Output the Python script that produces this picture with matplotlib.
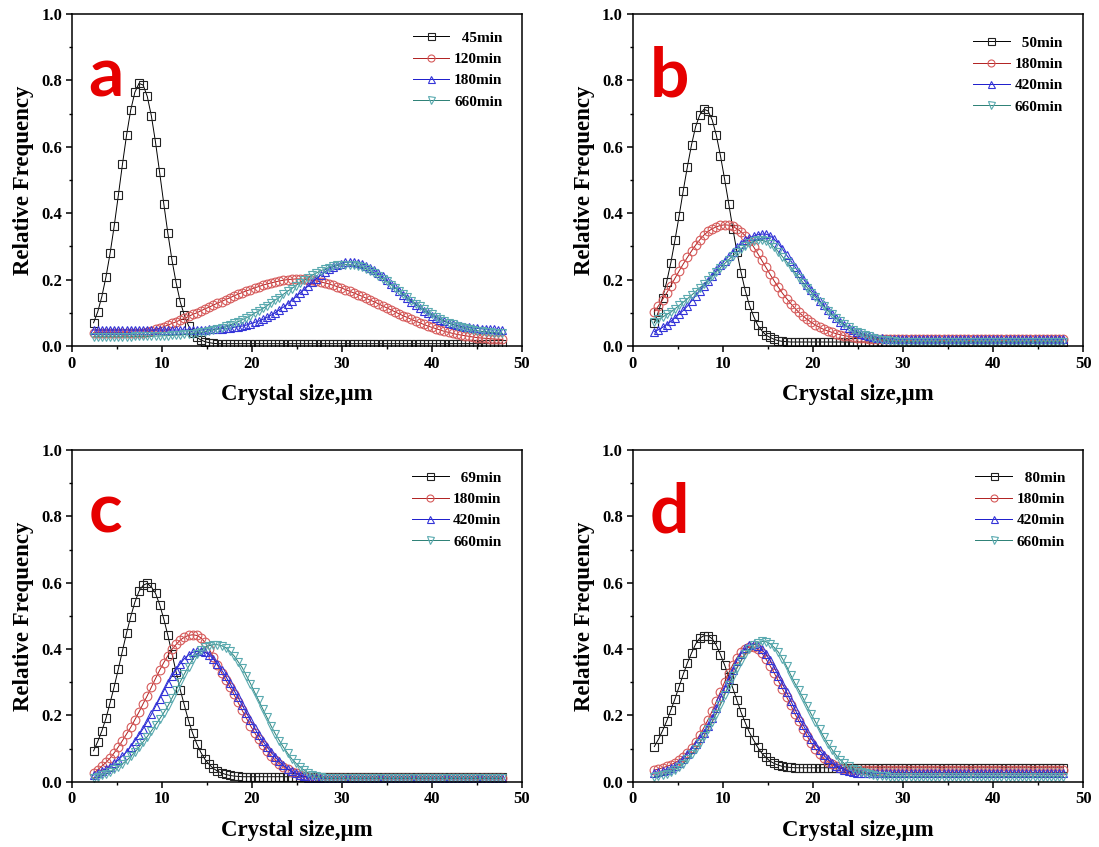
import numpy as np
import matplotlib
matplotlib.use('Agg')
from matplotlib import pyplot as plt
from matplotlib.ticker import MultipleLocator

# crystal size bins in um (100 bins, ~2.4 .. 47.8)
size = np.linspace(2.4, 47.8, 100)

## panel a
a_45 = [0.070, 0.103, 0.149, 0.208, 0.279, 0.362, 0.454, 0.548, 0.636, 0.711,
        0.764, 0.791, 0.786, 0.752, 0.693, 0.614, 0.523, 0.429, 0.339, 0.258,
        0.190, 0.133, 0.092, 0.061, 0.040, 0.026, 0.018, 0.013, 0.010, 0.008,
        0.007, 0.007, 0.007, 0.007, 0.007, 0.007, 0.007, 0.007, 0.007, 0.007,
        0.007, 0.007, 0.007, 0.007, 0.007, 0.007, 0.007, 0.007, 0.007, 0.007,
        0.007, 0.007, 0.007, 0.007, 0.007, 0.007, 0.007, 0.007, 0.007, 0.007,
        0.007, 0.007, 0.007, 0.007, 0.007, 0.007, 0.007, 0.007, 0.007, 0.007,
        0.007, 0.007, 0.007, 0.007, 0.007, 0.007, 0.007, 0.007, 0.007, 0.007,
        0.007, 0.007, 0.007, 0.007, 0.007, 0.007, 0.007, 0.007, 0.007, 0.007,
        0.007, 0.007, 0.007, 0.007, 0.007, 0.007, 0.007, 0.007, 0.007, 0.007]
a_120 = [0.040, 0.040, 0.040, 0.040, 0.040, 0.040, 0.040, 0.040, 0.040, 0.040,
         0.040, 0.040, 0.040, 0.043, 0.046, 0.050, 0.054, 0.058, 0.063, 0.068,
         0.073, 0.078, 0.083, 0.089, 0.095, 0.100, 0.106, 0.112, 0.117, 0.123,
         0.129, 0.134, 0.140, 0.145, 0.151, 0.156, 0.161, 0.166, 0.170, 0.175,
         0.179, 0.183, 0.187, 0.190, 0.193, 0.196, 0.198, 0.200, 0.201, 0.202,
         0.202, 0.201, 0.200, 0.198, 0.196, 0.193, 0.190, 0.187, 0.183, 0.179,
         0.175, 0.170, 0.165, 0.160, 0.155, 0.150, 0.144, 0.138, 0.133, 0.127,
         0.121, 0.115, 0.109, 0.103, 0.097, 0.091, 0.086, 0.080, 0.075, 0.070,
         0.065, 0.060, 0.056, 0.052, 0.048, 0.044, 0.041, 0.038, 0.035, 0.033,
         0.031, 0.029, 0.027, 0.025, 0.024, 0.023, 0.022, 0.021, 0.020, 0.020]
a_180 = [0.048, 0.048, 0.048, 0.048, 0.048, 0.048, 0.048, 0.048, 0.048, 0.048,
         0.048, 0.048, 0.048, 0.048, 0.048, 0.048, 0.048, 0.048, 0.048, 0.048,
         0.048, 0.048, 0.048, 0.048, 0.048, 0.048, 0.048, 0.049, 0.050, 0.050,
         0.051, 0.052, 0.053, 0.054, 0.056, 0.058, 0.060, 0.063, 0.067, 0.071,
         0.075, 0.080, 0.086, 0.093, 0.100, 0.109, 0.117, 0.127, 0.137, 0.148,
         0.159, 0.170, 0.181, 0.192, 0.203, 0.213, 0.222, 0.231, 0.238, 0.244,
         0.248, 0.252, 0.253, 0.253, 0.251, 0.247, 0.242, 0.236, 0.228, 0.219,
         0.210, 0.199, 0.188, 0.177, 0.166, 0.155, 0.144, 0.134, 0.124, 0.115,
         0.106, 0.098, 0.091, 0.085, 0.079, 0.074, 0.069, 0.065, 0.062, 0.059,
         0.057, 0.056, 0.054, 0.053, 0.052, 0.051, 0.050, 0.050, 0.049, 0.049]
a_660 = [0.028, 0.028, 0.028, 0.028, 0.028, 0.028, 0.028, 0.028, 0.028, 0.028,
         0.029, 0.029, 0.029, 0.029, 0.029, 0.030, 0.030, 0.031, 0.031, 0.032,
         0.033, 0.033, 0.035, 0.036, 0.037, 0.039, 0.041, 0.043, 0.046, 0.048,
         0.051, 0.055, 0.059, 0.063, 0.068, 0.073, 0.079, 0.085, 0.091, 0.099,
         0.105, 0.113, 0.121, 0.130, 0.139, 0.146, 0.156, 0.165, 0.173, 0.182,
         0.191, 0.199, 0.206, 0.214, 0.220, 0.227, 0.231, 0.236, 0.240, 0.243,
         0.244, 0.245, 0.245, 0.243, 0.240, 0.237, 0.232, 0.226, 0.219, 0.211,
         0.203, 0.195, 0.185, 0.175, 0.166, 0.156, 0.147, 0.137, 0.128, 0.119,
         0.111, 0.102, 0.095, 0.088, 0.081, 0.076, 0.070, 0.065, 0.061, 0.057,
         0.054, 0.051, 0.048, 0.046, 0.044, 0.043, 0.041, 0.040, 0.039, 0.038]

## panel b
b_50 = [0.070, 0.103, 0.146, 0.194, 0.251, 0.319, 0.392, 0.468, 0.540, 0.606,
        0.661, 0.696, 0.713, 0.708, 0.681, 0.635, 0.573, 0.503, 0.429, 0.353,
        0.283, 0.221, 0.167, 0.123, 0.090, 0.063, 0.046, 0.033, 0.026, 0.020,
        0.016, 0.014, 0.013, 0.012, 0.012, 0.012, 0.012, 0.012, 0.012, 0.012,
        0.012, 0.012, 0.012, 0.012, 0.012, 0.012, 0.012, 0.012, 0.012, 0.012,
        0.012, 0.012, 0.012, 0.012, 0.012, 0.012, 0.012, 0.012, 0.012, 0.012,
        0.012, 0.012, 0.012, 0.012, 0.012, 0.012, 0.012, 0.012, 0.012, 0.012,
        0.012, 0.012, 0.012, 0.012, 0.012, 0.012, 0.012, 0.012, 0.012, 0.012,
        0.012, 0.012, 0.012, 0.012, 0.012, 0.012, 0.012, 0.012, 0.012, 0.012,
        0.012, 0.012, 0.012, 0.012, 0.012, 0.012, 0.012, 0.012, 0.012, 0.012]
b_180 = [0.103, 0.121, 0.140, 0.160, 0.182, 0.204, 0.226, 0.247, 0.267, 0.286,
         0.304, 0.320, 0.334, 0.345, 0.353, 0.359, 0.363, 0.365, 0.364, 0.360,
         0.353, 0.344, 0.332, 0.317, 0.299, 0.279, 0.258, 0.237, 0.216, 0.196,
         0.177, 0.159, 0.143, 0.128, 0.114, 0.101, 0.090, 0.080, 0.071, 0.063,
         0.056, 0.050, 0.045, 0.041, 0.037, 0.034, 0.031, 0.029, 0.027, 0.025,
         0.024, 0.023, 0.022, 0.021, 0.020, 0.020, 0.020, 0.020, 0.020, 0.020,
         0.020, 0.020, 0.020, 0.020, 0.020, 0.020, 0.020, 0.020, 0.020, 0.020,
         0.020, 0.020, 0.020, 0.020, 0.020, 0.020, 0.020, 0.020, 0.020, 0.020,
         0.020, 0.020, 0.020, 0.020, 0.020, 0.020, 0.020, 0.020, 0.020, 0.020,
         0.020, 0.020, 0.020, 0.020, 0.020, 0.020, 0.020, 0.020, 0.020, 0.020]
b_420 = [0.043, 0.049, 0.056, 0.064, 0.074, 0.085, 0.096, 0.107, 0.120, 0.136,
         0.151, 0.166, 0.180, 0.195, 0.212, 0.228, 0.244, 0.257, 0.270, 0.284,
         0.297, 0.308, 0.318, 0.326, 0.331, 0.335, 0.337, 0.337, 0.332, 0.322,
         0.308, 0.292, 0.274, 0.257, 0.239, 0.221, 0.203, 0.185, 0.168, 0.153,
         0.137, 0.122, 0.107, 0.095, 0.083, 0.073, 0.063, 0.055, 0.047, 0.042,
         0.037, 0.033, 0.030, 0.027, 0.025, 0.023, 0.022, 0.021, 0.020, 0.020,
         0.020, 0.020, 0.020, 0.020, 0.020, 0.020, 0.020, 0.020, 0.020, 0.020,
         0.020, 0.020, 0.020, 0.020, 0.020, 0.020, 0.020, 0.020, 0.020, 0.020,
         0.020, 0.020, 0.020, 0.020, 0.020, 0.020, 0.020, 0.020, 0.020, 0.020,
         0.020, 0.020, 0.020, 0.020, 0.020, 0.020, 0.020, 0.020, 0.020, 0.020]
b_660 = [0.073, 0.080, 0.087, 0.095, 0.102, 0.112, 0.122, 0.132, 0.142, 0.153,
         0.164, 0.175, 0.186, 0.198, 0.210, 0.223, 0.236, 0.248, 0.260, 0.272,
         0.283, 0.293, 0.302, 0.310, 0.315, 0.318, 0.318, 0.315, 0.308, 0.298,
         0.284, 0.269, 0.254, 0.238, 0.222, 0.206, 0.191, 0.176, 0.161, 0.147,
         0.133, 0.120, 0.106, 0.095, 0.084, 0.074, 0.065, 0.057, 0.049, 0.043,
         0.038, 0.033, 0.029, 0.025, 0.022, 0.019, 0.017, 0.015, 0.014, 0.013,
         0.013, 0.013, 0.013, 0.013, 0.013, 0.013, 0.013, 0.013, 0.013, 0.013,
         0.013, 0.013, 0.013, 0.013, 0.013, 0.013, 0.013, 0.013, 0.013, 0.013,
         0.013, 0.013, 0.013, 0.013, 0.013, 0.013, 0.013, 0.013, 0.013, 0.013,
         0.013, 0.013, 0.013, 0.013, 0.013, 0.013, 0.013, 0.013, 0.013, 0.013]

## panel c
c_69 = [0.093, 0.121, 0.153, 0.191, 0.238, 0.287, 0.340, 0.395, 0.449, 0.498,
        0.541, 0.574, 0.592, 0.598, 0.587, 0.568, 0.534, 0.491, 0.441, 0.386,
        0.330, 0.277, 0.230, 0.184, 0.146, 0.114, 0.088, 0.067, 0.052, 0.040,
        0.032, 0.026, 0.022, 0.019, 0.017, 0.016, 0.015, 0.015, 0.015, 0.015,
        0.015, 0.015, 0.015, 0.015, 0.015, 0.015, 0.015, 0.015, 0.015, 0.015,
        0.015, 0.015, 0.015, 0.015, 0.015, 0.015, 0.015, 0.015, 0.015, 0.015,
        0.015, 0.015, 0.015, 0.015, 0.015, 0.015, 0.015, 0.015, 0.015, 0.015,
        0.015, 0.015, 0.015, 0.015, 0.015, 0.015, 0.015, 0.015, 0.015, 0.015,
        0.015, 0.015, 0.015, 0.015, 0.015, 0.015, 0.015, 0.015, 0.015, 0.015,
        0.015, 0.015, 0.015, 0.015, 0.015, 0.015, 0.015, 0.015, 0.015, 0.015]
c_180 = [0.025, 0.036, 0.047, 0.058, 0.071, 0.087, 0.105, 0.124, 0.144, 0.164,
         0.187, 0.210, 0.235, 0.259, 0.285, 0.311, 0.336, 0.359, 0.380, 0.399,
         0.414, 0.427, 0.436, 0.441, 0.443, 0.441, 0.434, 0.420, 0.400, 0.376,
         0.352, 0.329, 0.307, 0.286, 0.263, 0.239, 0.215, 0.192, 0.169, 0.148,
         0.128, 0.110, 0.093, 0.078, 0.065, 0.054, 0.045, 0.037, 0.030, 0.025,
         0.020, 0.016, 0.013, 0.012, 0.012, 0.012, 0.012, 0.012, 0.012, 0.012,
         0.012, 0.012, 0.012, 0.012, 0.012, 0.012, 0.012, 0.012, 0.012, 0.012,
         0.012, 0.012, 0.012, 0.012, 0.012, 0.012, 0.012, 0.012, 0.012, 0.012,
         0.012, 0.012, 0.012, 0.012, 0.012, 0.012, 0.012, 0.012, 0.012, 0.012,
         0.012, 0.012, 0.012, 0.012, 0.012, 0.012, 0.012, 0.012, 0.012, 0.012]
c_420 = [0.020, 0.026, 0.032, 0.038, 0.045, 0.055, 0.066, 0.078, 0.090, 0.106,
         0.123, 0.141, 0.160, 0.181, 0.203, 0.227, 0.250, 0.274, 0.298, 0.319,
         0.338, 0.356, 0.371, 0.382, 0.390, 0.393, 0.393, 0.390, 0.383, 0.370,
         0.355, 0.337, 0.318, 0.297, 0.276, 0.254, 0.231, 0.208, 0.185, 0.162,
         0.140, 0.122, 0.105, 0.089, 0.074, 0.061, 0.049, 0.039, 0.031, 0.025,
         0.020, 0.016, 0.012, 0.010, 0.010, 0.010, 0.010, 0.010, 0.010, 0.010,
         0.010, 0.010, 0.010, 0.010, 0.010, 0.010, 0.010, 0.010, 0.010, 0.010,
         0.010, 0.010, 0.010, 0.010, 0.010, 0.010, 0.010, 0.010, 0.010, 0.010,
         0.010, 0.010, 0.010, 0.010, 0.010, 0.010, 0.010, 0.010, 0.010, 0.010,
         0.010, 0.010, 0.010, 0.010, 0.010, 0.010, 0.010, 0.010, 0.010, 0.010]
c_660 = [0.010, 0.014, 0.019, 0.024, 0.030, 0.037, 0.045, 0.054, 0.064, 0.076,
         0.089, 0.104, 0.120, 0.136, 0.153, 0.171, 0.189, 0.208, 0.228, 0.252,
         0.277, 0.301, 0.325, 0.347, 0.369, 0.385, 0.397, 0.405, 0.410, 0.413,
         0.413, 0.410, 0.404, 0.393, 0.380, 0.362, 0.344, 0.320, 0.296, 0.270,
         0.245, 0.219, 0.194, 0.168, 0.145, 0.124, 0.104, 0.086, 0.069, 0.056,
         0.044, 0.035, 0.027, 0.021, 0.016, 0.013, 0.011, 0.010, 0.010, 0.010,
         0.010, 0.010, 0.010, 0.010, 0.010, 0.010, 0.010, 0.010, 0.010, 0.010,
         0.010, 0.010, 0.010, 0.010, 0.010, 0.010, 0.010, 0.010, 0.010, 0.010,
         0.010, 0.010, 0.010, 0.010, 0.010, 0.010, 0.010, 0.010, 0.010, 0.010,
         0.010, 0.010, 0.010, 0.010, 0.010, 0.010, 0.010, 0.010, 0.010, 0.010]

## panel d
d_80 = [0.106, 0.128, 0.154, 0.183, 0.216, 0.250, 0.287, 0.324, 0.358, 0.388,
        0.415, 0.433, 0.440, 0.440, 0.431, 0.411, 0.383, 0.352, 0.317, 0.282,
        0.245, 0.209, 0.178, 0.149, 0.126, 0.104, 0.086, 0.073, 0.062, 0.055,
        0.050, 0.046, 0.044, 0.043, 0.042, 0.042, 0.042, 0.042, 0.042, 0.042,
        0.042, 0.042, 0.042, 0.042, 0.042, 0.042, 0.042, 0.042, 0.042, 0.042,
        0.042, 0.042, 0.042, 0.042, 0.042, 0.042, 0.042, 0.042, 0.042, 0.042,
        0.042, 0.042, 0.042, 0.042, 0.042, 0.042, 0.042, 0.042, 0.042, 0.042,
        0.042, 0.042, 0.042, 0.042, 0.042, 0.042, 0.042, 0.042, 0.042, 0.042,
        0.042, 0.042, 0.042, 0.042, 0.042, 0.042, 0.042, 0.042, 0.042, 0.042,
        0.042, 0.042, 0.042, 0.042, 0.042, 0.042, 0.042, 0.042, 0.042, 0.042]
d_180 = [0.035, 0.038, 0.042, 0.046, 0.051, 0.057, 0.065, 0.075, 0.088, 0.103,
         0.121, 0.141, 0.163, 0.187, 0.213, 0.242, 0.271, 0.300, 0.328, 0.353,
         0.374, 0.390, 0.401, 0.406, 0.405, 0.399, 0.388, 0.370, 0.350, 0.328,
         0.304, 0.280, 0.256, 0.231, 0.205, 0.182, 0.159, 0.137, 0.116, 0.098,
         0.083, 0.070, 0.060, 0.052, 0.046, 0.042, 0.039, 0.037, 0.036, 0.035,
         0.035, 0.035, 0.035, 0.035, 0.035, 0.035, 0.035, 0.035, 0.035, 0.035,
         0.035, 0.035, 0.035, 0.035, 0.035, 0.035, 0.035, 0.035, 0.035, 0.035,
         0.035, 0.035, 0.035, 0.035, 0.035, 0.035, 0.035, 0.035, 0.035, 0.035,
         0.035, 0.035, 0.035, 0.035, 0.035, 0.035, 0.035, 0.035, 0.035, 0.035,
         0.035, 0.035, 0.035, 0.035, 0.035, 0.035, 0.035, 0.035, 0.035, 0.035]
d_420 = [0.025, 0.028, 0.032, 0.036, 0.041, 0.048, 0.057, 0.069, 0.083, 0.098,
         0.115, 0.131, 0.148, 0.168, 0.193, 0.222, 0.254, 0.282, 0.310, 0.338,
         0.365, 0.386, 0.402, 0.412, 0.415, 0.410, 0.399, 0.384, 0.366, 0.344,
         0.320, 0.295, 0.270, 0.244, 0.219, 0.194, 0.171, 0.149, 0.129, 0.111,
         0.095, 0.080, 0.067, 0.056, 0.048, 0.041, 0.036, 0.032, 0.029, 0.027,
         0.026, 0.025, 0.025, 0.025, 0.025, 0.025, 0.025, 0.025, 0.025, 0.025,
         0.025, 0.025, 0.025, 0.025, 0.025, 0.025, 0.025, 0.025, 0.025, 0.025,
         0.025, 0.025, 0.025, 0.025, 0.025, 0.025, 0.025, 0.025, 0.025, 0.025,
         0.025, 0.025, 0.025, 0.025, 0.025, 0.025, 0.025, 0.025, 0.025, 0.025,
         0.025, 0.025, 0.025, 0.025, 0.025, 0.025, 0.025, 0.025, 0.025, 0.025]
d_660 = [0.015, 0.017, 0.020, 0.024, 0.029, 0.036, 0.044, 0.054, 0.067, 0.082,
         0.098, 0.117, 0.138, 0.159, 0.181, 0.205, 0.232, 0.261, 0.292, 0.319,
         0.344, 0.365, 0.385, 0.400, 0.412, 0.419, 0.423, 0.422, 0.416, 0.405,
         0.391, 0.371, 0.348, 0.322, 0.297, 0.276, 0.252, 0.227, 0.203, 0.180,
         0.158, 0.135, 0.114, 0.097, 0.080, 0.065, 0.055, 0.046, 0.039, 0.034,
         0.029, 0.025, 0.022, 0.020, 0.018, 0.017, 0.016, 0.015, 0.015, 0.015,
         0.015, 0.015, 0.015, 0.015, 0.015, 0.015, 0.015, 0.015, 0.015, 0.015,
         0.015, 0.015, 0.015, 0.015, 0.015, 0.015, 0.015, 0.015, 0.015, 0.015,
         0.015, 0.015, 0.015, 0.015, 0.015, 0.015, 0.015, 0.015, 0.015, 0.015,
         0.015, 0.015, 0.015, 0.015, 0.015, 0.015, 0.015, 0.015, 0.015, 0.015]

panel_letters = ['a', 'b', 'c', 'd']
panel_series = [[a_45, a_120, a_180, a_660],
                [b_50, b_180, b_420, b_660],
                [c_69, c_180, c_420, c_660],
                [d_80, d_180, d_420, d_660]]
panel_labels = [['  45min', '120min', '180min', '660min'],
                ['  50min', '180min', '420min', '660min'],
                ['  69min', '180min', '420min', '660min'],
                ['  80min', '180min', '420min', '660min']]

markers = ['s', 'o', '^', 'v']
line_cols = ['#000000', '#b01e1e', '#1a1acc', '#2a7f74']
mark_cols = ['#222222', '#d65a5a', '#3434d8', '#5aaab0']

serif = 'Liberation Serif'
plt.rcParams['font.family'] = serif
plt.rcParams['font.weight'] = 'bold'

fig = plt.figure(figsize=(10.99, 8.47), dpi=100)
boxes = [[0.0655, 0.5915, 0.4095, 0.392],
         [0.5757, 0.5915, 0.4100, 0.392],
         [0.0655, 0.0771, 0.4095, 0.3916],
         [0.5757, 0.0771, 0.4100, 0.3916]]
leg_anchor = [(0.987, 0.99), (0.985, 0.975), (0.985, 0.978), (0.99, 0.978)]

for k in range(4):
    ax = fig.add_axes(boxes[k])
    for s in range(4):
        ax.plot(size, panel_series[k][s], color=line_cols[s], lw=0.7,
                marker=markers[s], ms=6.3, mfc='none', mec=mark_cols[s], mew=0.8,
                label=panel_labels[k][s])
    ax.set_xlim(0, 50)
    ax.set_ylim(0, 1.0)
    ax.xaxis.set_major_locator(MultipleLocator(10))
    ax.xaxis.set_minor_locator(MultipleLocator(5))
    ax.yaxis.set_major_locator(MultipleLocator(0.2))
    ax.yaxis.set_minor_locator(MultipleLocator(0.1))
    ax.yaxis.set_major_formatter(plt.FormatStrFormatter('%.1f'))
    ax.tick_params(which='major', direction='out', length=4.5, width=1.1, labelsize=12, pad=2.5)
    ax.tick_params(which='minor', direction='out', length=2.5, width=1.0)
    for sp in ax.spines.values():
        sp.set_linewidth(1.1)
    for lab in ax.get_xticklabels() + ax.get_yticklabels():
        lab.set_fontweight('bold')
    ax.set_xlabel('Crystal size,\u03bcm', fontsize=16.5, fontweight='bold', labelpad=9)
    ax.set_ylabel('Relative Frequency', fontsize=16.5, fontweight='bold', labelpad=5)
    ax.text(0.037, 0.752, panel_letters[k], transform=ax.transAxes, fontsize=50,
            fontweight='bold', color='#e60000', family='Lato', va='baseline')
    ax.legend(loc='upper right', bbox_to_anchor=leg_anchor[k], frameon=False,
              prop={'family': serif, 'weight': 'bold', 'size': 11},
              handlelength=2.4, handletextpad=0.3, labelspacing=0.5, markerscale=0.8)

fig.savefig('out.png', dpi=100)
